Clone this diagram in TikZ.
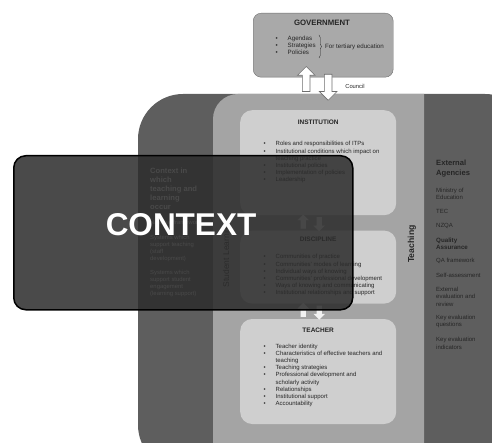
\documentclass[tikz,border=0pt]{standalone}
\usepackage{fontspec}
\setmainfont{Liberation Sans}
\usetikzlibrary{positioning, calc, shapes.arrows, decorations.pathreplacing}

\definecolor{outerc}{HTML}{5E5E5E}
\definecolor{bandc}{HTML}{A4A4A4}
\definecolor{boxc}{HTML}{CFCFCF}
\definecolor{govc}{HTML}{A9A9A9}
\definecolor{govline}{HTML}{6E6E6E}
\definecolor{ctxc}{HTML}{2C2C2C}
\definecolor{textc}{HTML}{262626}

\newcommand{\fsz}[2]{\fontsize{#1}{#2}\selectfont}
\newcommand{\bulletlist}[1]{\begin{tabular}[t]{@{}p{12pt}@{}l@{}}#1\end{tabular}}
\newcommand{\linelist}[1]{\begin{tabular}[t]{@{}l@{}}#1\end{tabular}}

\tikzset{
x=1pt, y=-1pt, % pixel-like coordinates, y grows downwards
infobox/.style={fill=boxc, rounded corners=12pt, minimum width=156pt, inner sep=0pt}, % INSTITUTION, DISCIPLINE, TEACHER
boxtitle/.style={font=\fsz{6.5}{8}\bfseries, text=textc},
listtext/.style={font=\fsz{6}{7.2}, text=textc, inner sep=0pt, anchor=base west},
sidetext/.style={inner sep=0pt, anchor=base west}, % columns left and right
blockarrow/.style={single arrow, draw=govline, fill=white, line width=0.6pt, inner sep=3.5pt, single arrow head extend=5pt, minimum height=25pt},
smallarrow/.style={single arrow, fill=white!90!gray, inner sep=2.5pt, single arrow head extend=3pt, minimum height=14pt},
}

\begin{document}
\begin{tikzpicture}
\useasboundingbox (0,0) rectangle (492,443);
\clip (0,0) rectangle (492,443);

% dark frame and grey band
\fill[outerc, rounded corners=45pt] (138,470) |- (530,94) -- (530,470) -- cycle;
\fill[bandc] [rounded corners=25pt] (213,470) |- (300,94) [sharp corners] -- (424,94) -- (424,470) -- cycle;

% government
\node[fill=govc, draw=govline, rounded corners=8pt, minimum width=140pt, minimum height=64pt, anchor=north west] (gov) at (253,13) {};
\node[font=\fsz{7.8}{9}\bfseries, text=textc] (govtitle) at (322,23) {GOVERNMENT};
\node[listtext, font=\fsz{6.2}{7}] (govlist) at (275.5,41) {\bulletlist{\textbullet & Agendas\\ \textbullet & Strategies\\ \textbullet & Policies}};
\draw[textc, line width=0.4pt, decorate, decoration={brace, amplitude=2.5pt}] (319,35) -- (319,58);
\node[sidetext, font=\fsz{6.2}{7}, text=textc] (govnote) at (325,48.5) {For tertiary education};
\node[blockarrow, shape border rotate=90] (govup) at ($(gov.south)+(-17,3.5)$) {};
\node[blockarrow, shape border rotate=270, minimum height=26pt] (govdown) at ($(gov.south)+(5,8)$) {};
\node[font=\fsz{5.8}{7}, text=textc] (council) at (355,86) {Council};

% inner boxes
\node[infobox, minimum height=105pt, anchor=north west] (inst) at (240,110) {};
\node[infobox, minimum height=73pt, below=15pt of inst] (disc) {};
\node[infobox, minimum height=105pt, below=15pt of disc] (teach) {};

\node[boxtitle] (insttitle) at ([yshift=-12pt]inst.north) {INSTITUTION};
\node[listtext] (instlist) at (263.5,146) {\bulletlist{%
\textbullet & Roles and responsibilities of ITPs\\
\textbullet & Institutional conditions which impact on\\
 & teaching practice\\
\textbullet & Institutional policies\\
\textbullet & Implementation of policies\\
\textbullet & Leadership}};

\node[boxtitle] (disctitle) at ([yshift=-9pt]disc.north) {DISCIPLINE};
\node[listtext] (disclist) at (263.5,259) {\bulletlist{%
\textbullet & Communities of practice\\
\textbullet & Communities' modes of learning\\
\textbullet & Individual ways of knowing\\
\textbullet & Communities' professional development\\
\textbullet & Ways of knowing and communicating\\
\textbullet & Institutional relationships and support}};

\node[boxtitle] (teachtitle) at ([yshift=-11pt]teach.north) {TEACHER};
\node[listtext] (teachlist) at (263.5,348) {\bulletlist{%
\textbullet & Teacher identity\\
\textbullet & Characteristics of effective teachers and\\
 & teaching\\
\textbullet & Teaching strategies\\
\textbullet & Professional development  and\\
 & scholarly activity\\
\textbullet & Relationships\\
\textbullet & Institutional support\\
\textbullet & Accountability}};

\node[smallarrow, shape border rotate=90] (up1) at ($(inst.south)!.5!(disc.north)+(-15,0)$) {};
\node[smallarrow, shape border rotate=270] (down1) at ($(inst.south)!.5!(disc.north)+(1,0)$) {};
\node[smallarrow, shape border rotate=90] (up2) at ($(disc.south)!.5!(teach.north)+(-15,0)$) {};
\node[smallarrow, shape border rotate=270] (down2) at ($(disc.south)!.5!(teach.north)+(1,0)$) {};

% band labels
\node[rotate=90, font=\fsz{8.5}{10}, text=textc] (learning) at (227,255) {Student Learning};
\node[rotate=90, font=\fsz{8.7}{10}\bfseries, text=textc] (teaching) at (412,244) {Teaching};

% left column
\node[sidetext, font=\fsz{7.6}{9}\bfseries, text=white] (ctxhead) at (150,174) {\linelist{Context in\\ which\\ teaching and\\ learning\\ occur}};
\node[sidetext, font=\fsz{5.9}{7}, text=white] (ctxframe) at (150,225) {National framework};
\node[sidetext, font=\fsz{5.9}{7}, text=white] (ctxstaff) at (150,240) {\linelist{Systems which\\ support teaching\\ (staff\\ development)}};
\node[sidetext, font=\fsz{5.9}{7}, text=white] (ctxsupport) at (150,275) {\linelist{Systems which\\ support student\\ engagement\\ (learning support)}};

% right column
\node[sidetext, font=\fsz{7.6}{10}\bfseries, text=textc] (exthead) at (436,166) {\linelist{External\\ Agencies}};
\node[sidetext, font=\fsz{6}{7}, text=textc] (ministry) at (436,193) {\linelist{Ministry of\\ Education}};
\node[sidetext, font=\fsz{6}{7}, text=textc] (tec) at (436,214) {TEC};
\node[sidetext, font=\fsz{6}{7}, text=textc] (nzqa) at (436,228) {NZQA};
\node[sidetext, font=\fsz{6.2}{7}\bfseries, text=textc] (qa) at (436,242.5) {\linelist{Quality\\ Assurance}};
\node[sidetext, font=\fsz{6}{7}, text=textc] (qaframe) at (436,263) {QA framework};
\node[sidetext, font=\fsz{6}{7}, text=textc] (selfassess) at (436,278) {Self-assessment};
\node[sidetext, font=\fsz{6}{7.5}, text=textc] (exteval) at (436,291) {\linelist{External\\ evaluation and\\ review}};
\node[sidetext, font=\fsz{6}{8}, text=textc] (keyq) at (436,319) {\linelist{Key evaluation\\ questions}};
\node[sidetext, font=\fsz{6}{8}, text=textc] (keyi) at (436,341) {\linelist{Key evaluation\\ indicators}};

% context overlay
\node[draw=black, line width=1.5pt, fill=ctxc, fill opacity=0.86, rounded corners=12pt, minimum width=339pt, minimum height=154pt, anchor=north west] (ctx) at (13,155) {};
\node[font=\fsz{31.5}{36}\bfseries, text=white] (ctxlabel) at (181,225) {CONTEXT};
\end{tikzpicture}
\end{document}
